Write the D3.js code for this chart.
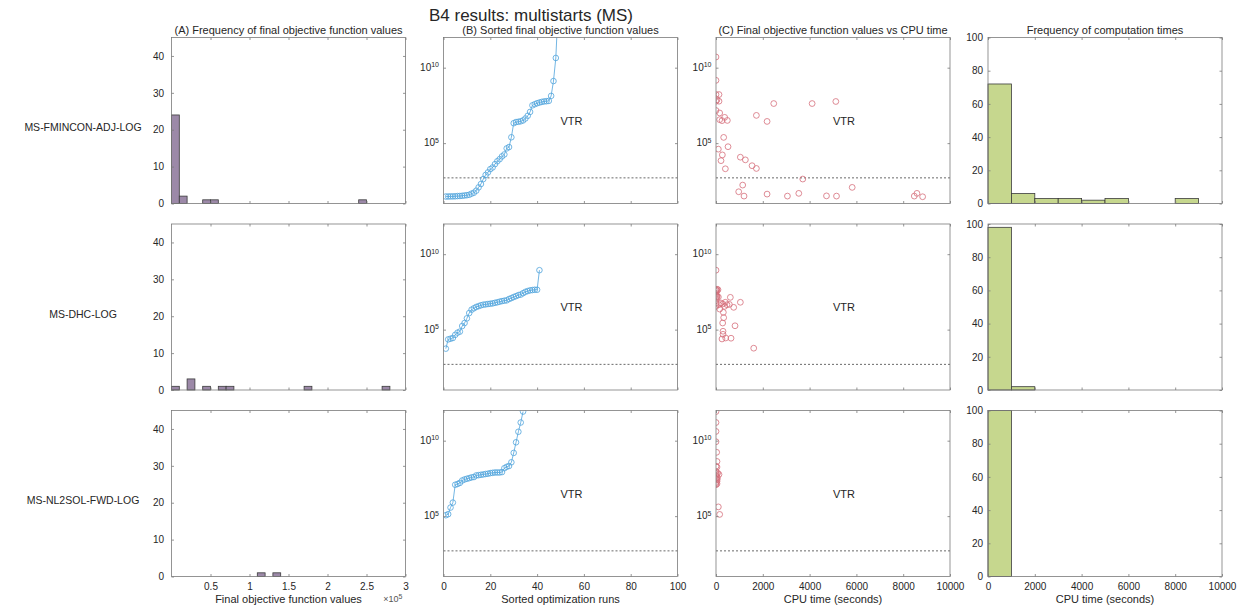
<!DOCTYPE html>
<html>
<head>
<meta charset="utf-8">
<script src="https://cdn.jsdelivr.net/npm/d3@7"></script>
<style>
  body { margin: 0; background: #fff; }
  svg text { font-family: "Liberation Sans", Arial, Helvetica, sans-serif; fill: #262626; }
  .ax text { font-size: 10px; }
  .ax line { stroke: #7a7a7a; stroke-width: 0.8; }
</style>
</head>
<body>
<div id="fig"></div>
<script>
// solver rows
var solvers = ["MS-FMINCON-ADJ-LOG", "MS-DHC-LOG", "MS-NL2SOL-FWD-LOG"];
var panelTitles = ["(A) Frequency of final objective function values", "(B) Sorted final objective function values",
                   "(C) Final objective function values vs CPU time", "Frequency of computation times"];
var xLabels = ["Final objective function values", "Sorted optimization runs", "CPU time (seconds)", "CPU time (seconds)"];

// sorted final objective values, one per converged run
var sorted1 = [29, 29, 29.5, 29.5, 30, 31, 31.5, 32.5, 34, 35.5, 38, 45, 52, 71, 117, 195, 417, 776, 1150, 1900,
               2450, 4070, 6300, 8700, 1.32e4, 1.78e4, 4.47e4, 5.5e4, 2.45e5, 2.1e6, 2.5e6, 2.6e6, 2.8e6, 3.2e6, 4.3e6,
               6.5e6, 1.17e7, 3.2e7, 3.8e7, 4.4e7, 4.9e7, 5.4e7, 5.8e7, 6.0e7, 6.3e7, 1.35e8, 1.3e9, 4.4e10, 1e14];
var sorted2 = [5.5e3, 2.25e4, 2.5e4, 2.8e4, 4.5e4, 6.3e4, 7.4e4, 1.74e5, 2.75e5, 5.6e5, 1.26e6, 2.1e6, 2.6e6, 3.2e6,
               3.6e6, 4.1e6, 4.5e6, 4.7e6, 5.0e6, 5.2e6, 5.5e6, 6.0e6, 6.5e6, 7.1e6, 7.8e6, 8.3e6, 8.7e6, 1.07e7,
               1.23e7, 1.45e7, 1.66e7, 1.95e7, 2.1e7, 2.6e7, 3.2e7, 3.6e7, 4.0e7, 4.2e7, 4.4e7, 4.4e7, 8.7e8];
var sorted3 = [1.15e5, 1.35e5, 3.7e5, 7.9e5, 1.2e7, 1.35e7, 1.6e7, 2.3e7, 2.7e7, 3.0e7, 3.3e7, 3.7e7, 3.9e7, 5.0e7,
               5.2e7, 5.5e7, 5.8e7, 6.2e7, 6.5e7, 7.1e7, 7.4e7, 7.8e7, 7.8e7, 7.8e7, 8.3e7, 1.5e8, 1.85e8, 2.1e8,
               3.7e8, 1.55e9, 7.8e9, 3.9e10, 1.6e11, 8.5e11];

// CPU time (s) and final objective value for each run
var cpu1 = [0, 0, 0, 128, 0, 128, 40, 0, 157, 157, 257, 371, 485, 328, 514, 100, 271, 214, 400, 1041, 1255, 1541,
            1726, 1726, 2183, 2468, 4108, 5121, 970, 1141, 1198, 2183, 3053, 3538, 3709, 4722, 5150, 5820, 8474, 8588, 8830];
var obj1 = [5.1e10, 1.45e9, 1.66e8, 1.66e8, 6.0e7, 6.0e7, 7.5e7, 1.45e7, 1.0e7, 3.6e6, 3.1e6, 5.1e6, 3.2e6, 2.4e5,
            5.8e4, 4.0e4, 1.66e4, 6.9e3, 2.0e3, 1.17e4, 7.8e3, 3.2e3, 2.1e3, 6.9e6, 2.75e6, 4.2e7, 4.2e7, 5.75e7,
            60, 166, 31, 42, 31, 47, 417, 32, 31, 117, 31, 47, 28];
var cpu2 = [0, 0, 43, 85, 0, 43, 0, 0, 43, 43, 0, 100, 0, 0, 128, 214, 285, 371, 400, 471, 571, 613, 756, 1041,
            157, 314, 328, 285, 813, 300, 300, 257, 414, 642, 1612];
var obj2 = [8.7e8, 4.4e7, 4.8e7, 4.4e7, 3.4e7, 3.8e7, 2.6e7, 2.0e7, 1.7e7, 1.45e7, 1.07e7, 1.45e7, 5.8e6, 3.5e6,
            4.5e6, 5.8e6, 5.0e6, 3.5e6, 6.5e6, 4.5e6, 4.7e6, 1.38e7, 3.0e6, 6.5e6,
            2.3e6, 1.4e6, 6.2e5, 2.75e5, 1.8e5, 7.8e4, 4.9e4, 2.4e4, 2.8e4, 2.7e4, 5.9e3];
var cpu3 = [0, 0, 0, 0, 28, 43, 0, 43, 0, 70, 128, 0, 43, 0, 43, 0, 43, 0, 20, 60, 43, 100, 157];
var obj3 = [8.5e11, 1.6e11, 4.1e10, 8.5e9, 1.7e9, 4.2e8, 2.0e8, 1.8e8, 9.1e7, 7.1e7, 5.8e7, 5.0e7, 4.0e7, 3.0e7,
            2.5e7, 1.6e7, 1.4e7, 1.2e7, 6.3e7, 3.3e7, 2.0e7, 4.1e5, 1.3e5];

// computation time histograms, 1000 s bins
var timeEdges = [0, 1000, 2000, 3000, 4000, 5000, 6000, 7000, 8000, 9000, 10000];
var timeCounts1 = [72, 6, 3, 3, 2, 3, 0, 0, 3, 0];
var timeCounts2 = [98, 2, 0, 0, 0, 0, 0, 0, 0, 0];
var timeCounts3 = [100, 0, 0, 0, 0, 0, 0, 0, 0, 0];

var vtr = 500;

var sortedRuns = [sorted1, sorted2, sorted3];
var cpuRuns = [cpu1, cpu2, cpu3];
var objRuns = [obj1, obj2, obj3];
var timeCounts = [timeCounts1, timeCounts2, timeCounts3];

var width = 1242, height = 610;
var colLeft = [171.5, 443.5, 716, 988], panelW = 234;
var rowTop = [37.5, 224, 410.5], panelH = 166;
var tickLen = 2.5;
var axisColor = "#7a7a7a";

var svg = d3.select("#fig").append("svg")
    .attr("width", width)
    .attr("height", height);

svg.append("text")
    .attr("x", 531).attr("y", 15)
    .attr("dominant-baseline", "central")
    .attr("text-anchor", "middle")
    .style("font-size", "17px")
    .text("B4 results: multistarts (MS)");

function drawAxes(g, x, y, opt) {
    var noLabel = function () { return ""; };
    g.append("g").attr("class", "ax")
        .attr("transform", "translate(0," + panelH + ")")
        .call(d3.axisBottom(x).tickValues(opt.xTicks).tickSizeInner(-tickLen).tickSizeOuter(0)
            .tickPadding(6.5).tickFormat(opt.showX ? opt.xFormat : noLabel));
    g.append("g").attr("class", "ax")
        .call(d3.axisTop(x).tickValues(opt.xTicks).tickSizeInner(-tickLen).tickSizeOuter(0).tickFormat(noLabel));
    g.append("g").attr("class", "ax")
        .call(d3.axisLeft(y).tickValues(opt.yTicks).tickSizeInner(-tickLen).tickSizeOuter(0)
            .tickPadding(opt.yPad).tickFormat(opt.yFormat || noLabel));
    g.append("g").attr("class", "ax")
        .attr("transform", "translate(" + panelW + ",0)")
        .call(d3.axisRight(y).tickValues(opt.yTicks).tickSizeInner(-tickLen).tickSizeOuter(0).tickFormat(noLabel));
    g.selectAll(".ax .domain").remove();
    g.append("rect")
        .attr("width", panelW).attr("height", panelH)
        .attr("fill", "none").attr("stroke", axisColor).attr("stroke-width", 0.8);
}

// 10^n labels for the log axes
function logLabels(g, y, values) {
    values.forEach(function (v) {
        var t = g.append("text")
            .attr("x", -4.5).attr("y", y(v)).attr("dy", "0.32em")
            .attr("text-anchor", "end")
            .style("font-size", "10px");
        t.append("tspan").text("10");
        t.append("tspan").attr("dy", "-0.5em").style("font-size", "7px").text(Math.round(Math.log10(v)));
    });
}

function clipFor(g, id) {
    g.append("clipPath").attr("id", id)
        .append("rect").attr("width", panelW).attr("height", panelH);
    return "url(#" + id + ")";
}

function vtrMarks(g, x, y, labelX) {
    g.append("line")
        .attr("x1", 0).attr("x2", panelW)
        .attr("y1", y(vtr)).attr("y2", y(vtr))
        .attr("stroke", "#444").attr("stroke-width", 0.8)
        .attr("stroke-dasharray", "2,2");
    g.append("text")
        .attr("x", x(labelX)).attr("y", y(3e6))
        .attr("dominant-baseline", "central")
        .style("font-size", "11px")
        .text("VTR");
}

rowTop.forEach(function (top, r) {
    var last = r === rowTop.length - 1;

    svg.append("text")
        .attr("x", 83).attr("y", top + panelH / 2 + 6.5)
        .attr("dominant-baseline", "central")
        .attr("text-anchor", "middle")
        .style("font-size", "10.5px")
        .text(solvers[r]);

    // (A) histogram of final values
    var gA = svg.append("g").attr("transform", "translate(" + colLeft[0] + "," + top + ")");
    var xA = d3.scaleLinear().domain([0, 3e5]).range([0, panelW]);
    var yA = d3.scaleLinear().domain([0, 45]).range([panelH, 0]);
    var bins = d3.bin().domain([0, 3e5]).thresholds(d3.range(0, 3e5, 1e4))(sortedRuns[r]);
    gA.selectAll(".bar")
        .data(bins.filter(function (b) { return b.length > 0; }))
        .enter().append("rect")
        .attr("class", "bar")
        .attr("x", function (b) { return xA(b.x0); })
        .attr("width", function (b) { return xA(b.x1) - xA(b.x0); })
        .attr("y", function (b) { return yA(b.length); })
        .attr("height", function (b) { return yA(0) - yA(b.length); })
        .attr("fill", "#9c89a8")
        .attr("stroke", "#3b3b3b").attr("stroke-width", 0.8);
    drawAxes(gA, xA, yA, {
        xTicks: [0.5e5, 1e5, 1.5e5, 2e5, 2.5e5, 3e5], showX: last,
        xFormat: function (d) { return d / 1e5; },
        yTicks: [0, 10, 20, 30, 40], yPad: 7.5, yFormat: function (d) { return d; }
    });

    // (B) sorted values on a log axis
    var gB = svg.append("g").attr("transform", "translate(" + colLeft[1] + "," + top + ")");
    var xB = d3.scaleLinear().domain([0, 100]).range([0, panelW]);
    var yB = d3.scaleLog().domain([10, 1e12]).range([panelH, 0]);
    vtrMarks(gB, xB, yB, 50);
    var plotB = gB.append("g").attr("clip-path", clipFor(gB, "clipB" + r));
    plotB.append("path")
        .datum(sortedRuns[r])
        .attr("fill", "none")
        .attr("stroke", "#4fa3dc").attr("stroke-width", 0.8)
        .attr("d", d3.line()
            .x(function (d, i) { return xB(i + 1); })
            .y(function (d) { return yB(d); }));
    plotB.selectAll("circle")
        .data(sortedRuns[r])
        .enter().append("circle")
        .attr("cx", function (d, i) { return xB(i + 1); })
        .attr("cy", function (d) { return yB(d); })
        .attr("r", 2.8)
        .attr("fill", "none")
        .attr("stroke", "#4fa3dc").attr("stroke-width", 0.8);
    drawAxes(gB, xB, yB, {
        xTicks: [0, 20, 40, 60, 80, 100], showX: last,
        xFormat: function (d) { return d; },
        yTicks: [1e5, 1e10], yPad: 5
    });
    logLabels(gB, yB, [1e5, 1e10]);

    // (C) final values against CPU time
    var gC = svg.append("g").attr("transform", "translate(" + colLeft[2] + "," + top + ")");
    var xC = d3.scaleLinear().domain([0, 10000]).range([0, panelW]);
    var yC = d3.scaleLog().domain([10, 1e12]).range([panelH, 0]);
    vtrMarks(gC, xC, yC, 5000);
    var plotC = gC.append("g").attr("clip-path", clipFor(gC, "clipC" + r));
    plotC.selectAll("circle")
        .data(d3.zip(cpuRuns[r], objRuns[r]))
        .enter().append("circle")
        .attr("cx", function (d) { return xC(d[0]); })
        .attr("cy", function (d) { return yC(d[1]); })
        .attr("r", 2.9)
        .attr("fill", "none")
        .attr("stroke", "#d56f7b").attr("stroke-width", 0.8);
    drawAxes(gC, xC, yC, {
        xTicks: [0, 2000, 4000, 6000, 8000, 10000], showX: last,
        xFormat: function (d) { return d; },
        yTicks: [1e5, 1e10], yPad: 5
    });
    logLabels(gC, yC, [1e5, 1e10]);

    // (D) histogram of computation times
    var gD = svg.append("g").attr("transform", "translate(" + colLeft[3] + "," + top + ")");
    var xD = d3.scaleLinear().domain([0, 10000]).range([0, panelW]);
    var yD = d3.scaleLinear().domain([0, 100]).range([panelH, 0]);
    gD.selectAll(".bar")
        .data(timeCounts[r].map(function (c, i) { return { x0: timeEdges[i], x1: timeEdges[i + 1], n: c }; })
            .filter(function (d) { return d.n > 0; }))
        .enter().append("rect")
        .attr("class", "bar")
        .attr("x", function (d) { return xD(d.x0); })
        .attr("width", function (d) { return xD(d.x1) - xD(d.x0); })
        .attr("y", function (d) { return yD(d.n); })
        .attr("height", function (d) { return yD(0) - yD(d.n); })
        .attr("fill", "#c6d78e")
        .attr("stroke", "#3b3b3b").attr("stroke-width", 0.8);
    drawAxes(gD, xD, yD, {
        xTicks: [0, 2000, 4000, 6000, 8000, 10000], showX: last,
        xFormat: function (d) { return d; },
        yTicks: [0, 20, 40, 60, 80, 100], yPad: 5, yFormat: function (d) { return d; }
    });

    if (r === 0) {
        colLeft.forEach(function (left, c) {
            svg.append("text")
                .attr("x", left + panelW / 2).attr("y", top - 3.5)
                .attr("text-anchor", "middle")
                .style("font-size", "11px")
                .text(panelTitles[c]);
        });
    }
    if (last) {
        colLeft.forEach(function (left, c) {
            svg.append("text")
                .attr("x", left + panelW / 2).attr("y", top + panelH + 26)
                .attr("text-anchor", "middle")
                .style("font-size", "11px")
                .text(xLabels[c]);
        });
        // exponent note for the (A) x axis
        var note = svg.append("text")
            .attr("x", colLeft[0] + panelW - 3).attr("y", top + panelH + 25.5)
            .attr("text-anchor", "end")
            .style("font-size", "9px")
            .style("fill", "#555");
        note.append("tspan").text("\u00d710");
        note.append("tspan").attr("dy", "-0.5em").style("font-size", "7px").text("5");
    }
});
</script>
</body>
</html>
